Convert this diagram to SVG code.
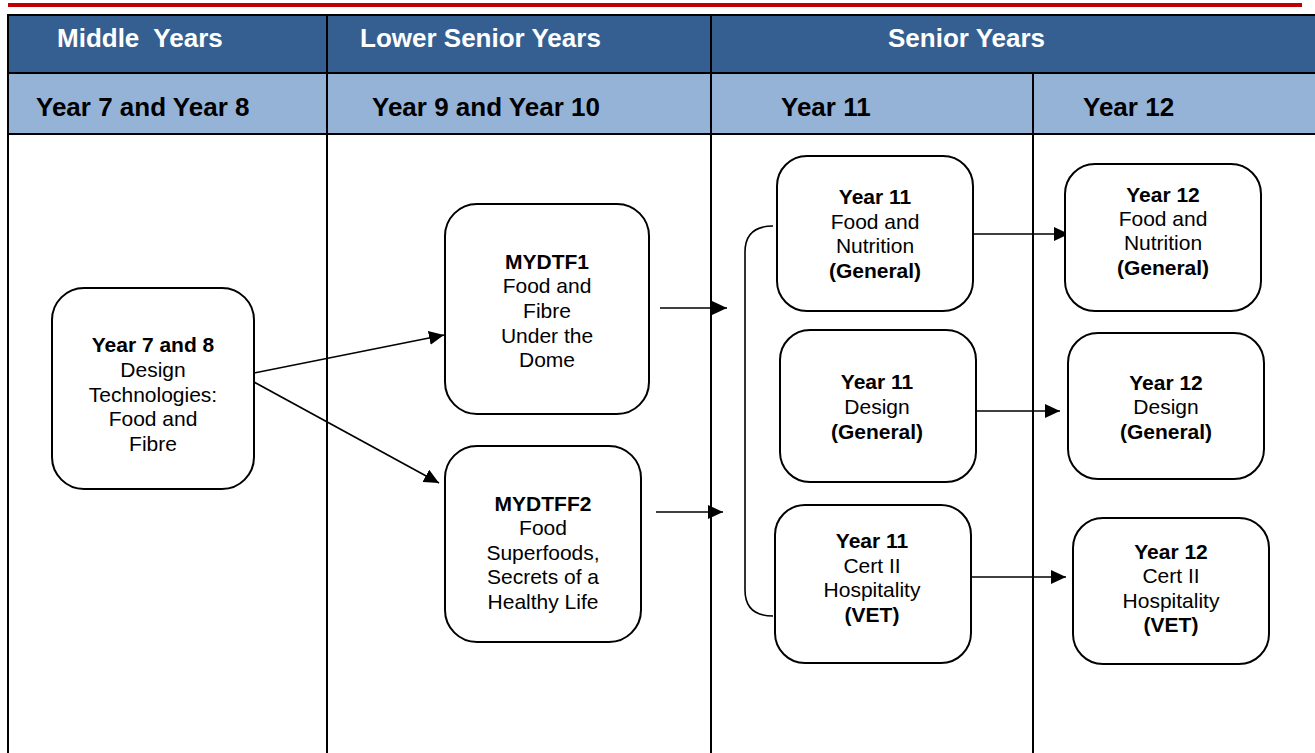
<svg xmlns="http://www.w3.org/2000/svg" width="1315" height="753" viewBox="0 0 1315 753">
<defs>
<style>
.hd{font-family:"Liberation Sans",Arial,sans-serif;font-weight:bold;font-size:26px;fill:#fff;white-space:pre}
.sh{font-family:"Liberation Sans",Arial,sans-serif;font-weight:bold;font-size:26px;fill:#000}
.grid{stroke:#000;stroke-width:2;fill:none}
.box{fill:#fff;stroke:#000;stroke-width:2}
.t{font-family:"Liberation Sans",Arial,sans-serif;font-size:21px;fill:#000;text-anchor:middle}
.b{font-weight:bold}
.c{stroke:#000;stroke-width:1.6;fill:none}
</style>
<marker id="ah" markerUnits="userSpaceOnUse" markerWidth="16" markerHeight="14" refX="15" refY="7" orient="auto">
<path d="M0,0 L15,7 L0,14 z" fill="#000"/>
</marker>
</defs>
<rect x="0" y="0" width="1315" height="753" fill="#fff"/>
<rect x="8" y="3" width="1294" height="4" fill="#C00000"/>
<g id="table">
<rect x="8" y="15" width="1310" height="58" fill="#365F91"/>
<rect x="8" y="73" width="1310" height="61" fill="#95B3D7"/>
<line class="grid" x1="7" y1="15" x2="1315" y2="15"/>
<line class="grid" x1="7" y1="73" x2="1315" y2="73"/>
<line class="grid" x1="7" y1="134" x2="1315" y2="134"/>
<line class="grid" x1="8" y1="14" x2="8" y2="753"/>
<line class="grid" x1="327" y1="14" x2="327" y2="753"/>
<line class="grid" x1="711" y1="14" x2="711" y2="753"/>
<line class="grid" x1="1033" y1="73" x2="1033" y2="753"/>
<text class="hd" x="57" y="47">Middle  Years</text>
<text class="hd" x="360" y="47">Lower Senior Years</text>
<text class="hd" x="888" y="47">Senior Years</text>
<text class="sh" x="36" y="116">Year 7 and Year 8</text>
<text class="sh" x="372" y="116">Year 9 and Year 10</text>
<text class="sh" x="781" y="116">Year 11</text>
<text class="sh" x="1083" y="116">Year 12</text>
</g>
<g id="connectors">
<line class="c" x1="254" y1="373" x2="444" y2="335" marker-end="url(#ah)"/>
<line class="c" x1="254" y1="382" x2="439" y2="483" marker-end="url(#ah)"/>
<line class="c" x1="660" y1="308" x2="727" y2="308" marker-end="url(#ah)"/>
<line class="c" x1="656" y1="512" x2="723" y2="512" marker-end="url(#ah)"/>
<path class="c" d="M773,226 Q745,226 745,252 L745,590 Q745,616 773,616"/>
<line class="c" x1="973" y1="234" x2="1069" y2="234" marker-end="url(#ah)"/>
<line class="c" x1="977" y1="411" x2="1060" y2="411" marker-end="url(#ah)"/>
<line class="c" x1="971" y1="577" x2="1066" y2="577" marker-end="url(#ah)"/>
</g>
<g id="n-y78">
<rect class="box" x="52" y="288" width="202" height="201" rx="32"/>
<text class="t" x="153"><tspan class="b" x="153" y="352">Year 7 and 8</tspan><tspan x="153" y="377">Design</tspan><tspan x="153" y="401.5">Technologies:</tspan><tspan x="153" y="426">Food and</tspan><tspan x="153" y="450.5">Fibre</tspan></text>
</g>
<g id="n-mydtf1">
<rect class="box" x="445" y="204" width="204" height="210" rx="32"/>
<text class="t" x="547"><tspan class="b" x="547" y="269">MYDTF1</tspan><tspan x="547" y="293">Food and</tspan><tspan x="547" y="318">Fibre</tspan><tspan x="547" y="342.5">Under the</tspan><tspan x="547" y="367">Dome</tspan></text>
</g>
<g id="n-mydtff2">
<rect class="box" x="445" y="446" width="196" height="196" rx="32"/>
<text class="t" x="543"><tspan class="b" x="543" y="511">MYDTFF2</tspan><tspan x="543" y="535">Food</tspan><tspan x="543" y="559.5">Superfoods,</tspan><tspan x="543" y="584">Secrets of a</tspan><tspan x="543" y="608.5">Healthy Life</tspan></text>
</g>
<g id="n-y11-food">
<rect class="box" x="777" y="156" width="196" height="155" rx="30"/>
<text class="t" x="875"><tspan class="b" x="875" y="204">Year 11</tspan><tspan x="875" y="229">Food and</tspan><tspan x="875" y="253">Nutrition</tspan><tspan class="b" x="875" y="278">(General)</tspan></text>
</g>
<g id="n-y11-design">
<rect class="box" x="780" y="330" width="196" height="152" rx="30"/>
<text class="t" x="877"><tspan class="b" x="877" y="389">Year 11</tspan><tspan x="877" y="413.5">Design</tspan><tspan class="b" x="877" y="438.5">(General)</tspan></text>
</g>
<g id="n-y11-cert">
<rect class="box" x="775" y="505" width="196" height="158" rx="30"/>
<text class="t" x="872"><tspan class="b" x="872" y="548">Year 11</tspan><tspan x="872" y="572.5">Cert II</tspan><tspan x="872" y="597">Hospitality</tspan><tspan class="b" x="872" y="621.5">(VET)</tspan></text>
</g>
<g id="n-y12-food">
<rect class="box" x="1065" y="164" width="196" height="147" rx="30"/>
<text class="t" x="1163"><tspan class="b" x="1163" y="202">Year 12</tspan><tspan x="1163" y="226">Food and</tspan><tspan x="1163" y="250">Nutrition</tspan><tspan class="b" x="1163" y="275">(General)</tspan></text>
</g>
<g id="n-y12-design">
<rect class="box" x="1068" y="333" width="196" height="146" rx="30"/>
<text class="t" x="1166"><tspan class="b" x="1166" y="389.5">Year 12</tspan><tspan x="1166" y="414">Design</tspan><tspan class="b" x="1166" y="439">(General)</tspan></text>
</g>
<g id="n-y12-cert">
<rect class="box" x="1073" y="518" width="196" height="146" rx="30"/>
<text class="t" x="1171"><tspan class="b" x="1171" y="559">Year 12</tspan><tspan x="1171" y="583">Cert II</tspan><tspan x="1171" y="608">Hospitality</tspan><tspan class="b" x="1171" y="632">(VET)</tspan></text>
</g>
</svg>
